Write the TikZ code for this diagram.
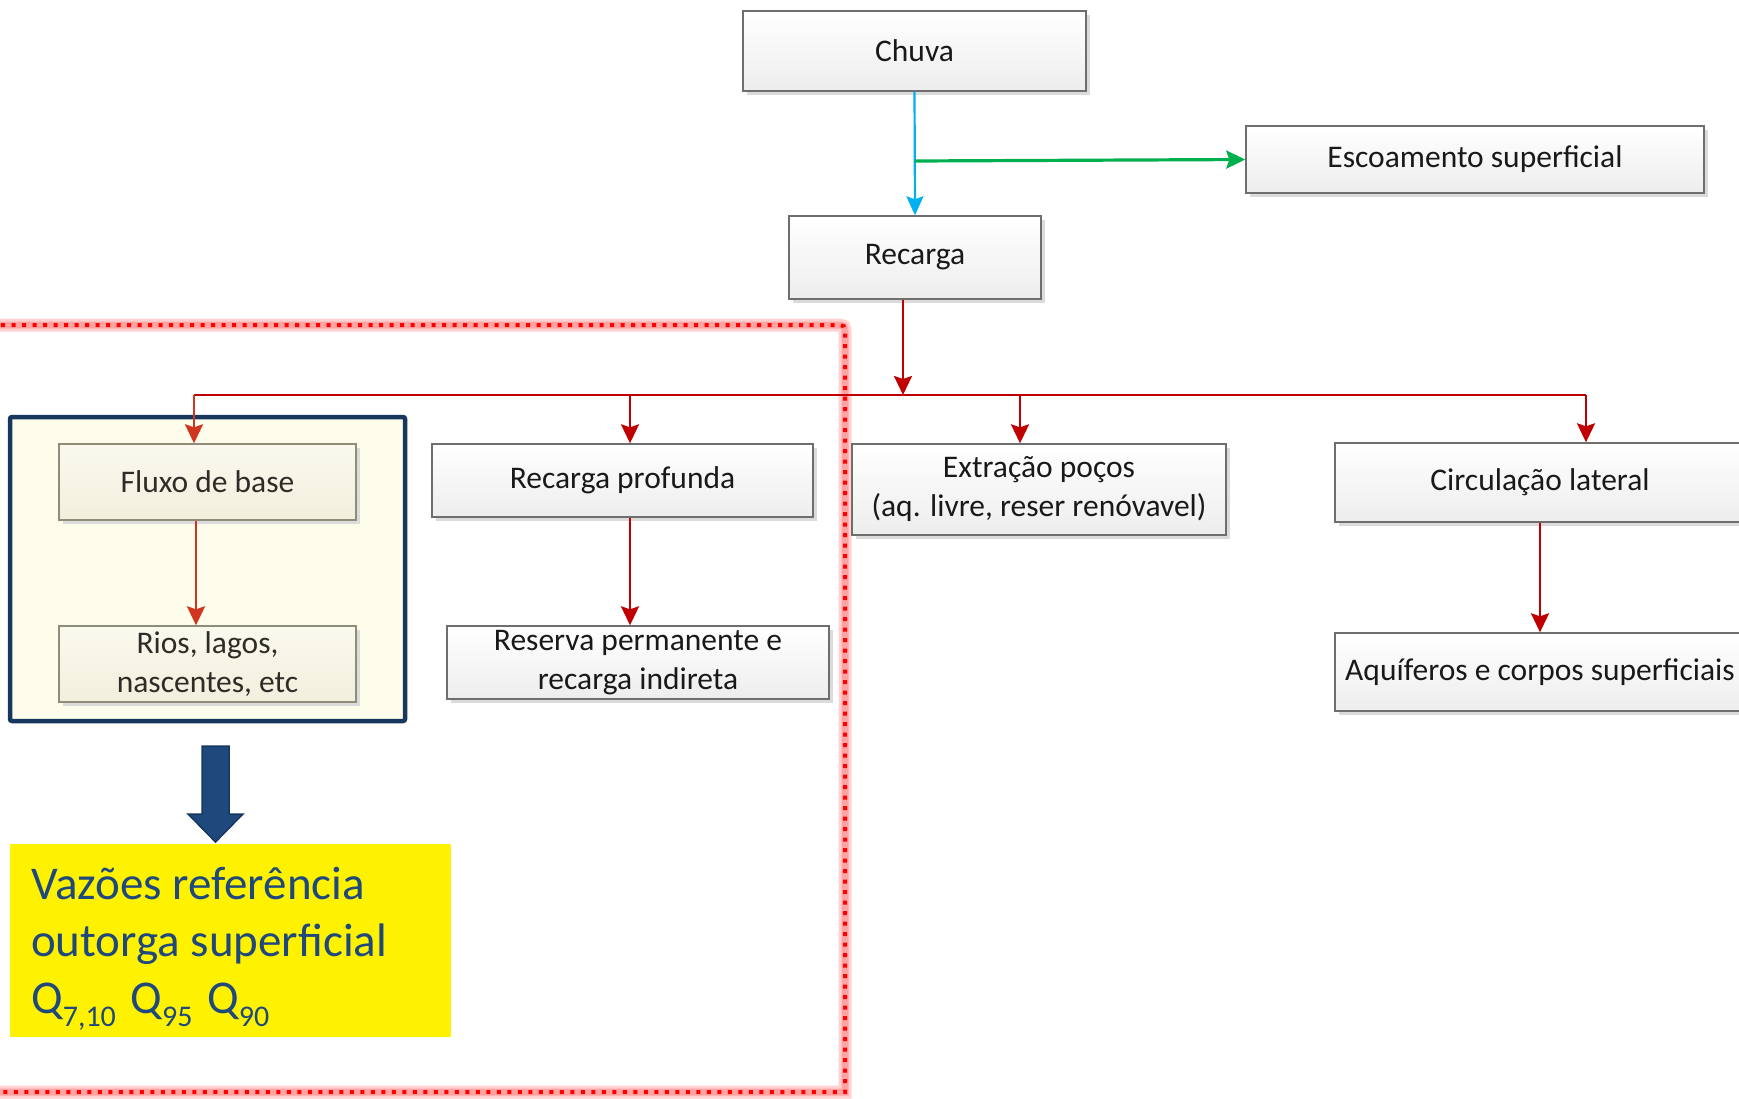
\documentclass[tikz,border=0pt]{standalone}
\usepackage{fontspec}
\setmainfont{Carlito}
\usetikzlibrary{arrows.meta,shadows}
\definecolor{redline}{HTML}{C00000}
\definecolor{redbox}{HTML}{D0361F}
\definecolor{bluel}{HTML}{00B0F0}
\definecolor{greenl}{HTML}{00B050}
\definecolor{navy}{HTML}{17375E}
\definecolor{navyfill}{HTML}{1F497D}
\definecolor{cream}{HTML}{FEFDEB}
\definecolor{textblue}{HTML}{1F497D}
\definecolor{boxborder}{HTML}{6E6E6E}
\definecolor{creamborder}{HTML}{8F8D7A}
\definecolor{creamtop}{HTML}{FAF9EE}
\definecolor{creambot}{HTML}{F1EFDC}
\newcommand\qsub[1]{\raisebox{-13pt}{\fontsize{30}{30}\selectfont #1}}
\begin{document}
\begin{tikzpicture}[x=1pt,y=-1pt,
  box/.style={draw=boxborder, line width=1.4pt, top color=white, bottom color=black!7,
    drop shadow={shadow xshift=4pt, shadow yshift=-4pt, fill=black!14, opacity=1},
    font=\fontsize{31.5}{39}\selectfont, text=black!90, align=center, inner sep=2pt},
  cbox/.style={box, draw=creamborder, top color=creamtop, bottom color=creambot, text=black!80!olive!60!black},
  rarrow/.style={draw=redline, line width=2.4pt, -{Stealth[length=19pt,width=18pt,inset=3pt]}},
  carrow/.style={draw=redbox, line width=2.4pt, -{Stealth[length=19pt,width=18pt,inset=3pt]}},
  rline/.style={draw=redline, line width=2.4pt},
  barrow/.style={draw=bluel, line width=2.2pt, -{Stealth[length=19pt,width=17pt,inset=3pt]}},
  garrow/.style={draw=greenl, line width=3.2pt, -{Stealth[length=19pt,width=18pt,inset=3pt]}},
]
\useasboundingbox (0,0) rectangle (1739,1098);
\clip (0,0) rectangle (1739,1098);

% red dotted frame with glow
\path[draw=red, line width=13pt, opacity=0.18] (-20,325) -- (835,325) .. controls (845,325) .. (845,335) -- (845,1092) -- (-20,1092);
\path[draw=red, line width=7pt, opacity=0.22] (-20,325) -- (835,325) .. controls (845,325) .. (845,335) -- (845,1092) -- (-20,1092);
\path[draw=red, line width=4pt, dash pattern=on 4pt off 6.5pt] (-20,325) -- (835,325) .. controls (845,325) .. (845,335) -- (845,1092) -- (-20,1092);

% navy group frame
\node[draw=navy, line width=4.5pt, fill=cream, rounded corners=2pt, minimum width=395pt, minimum height=304pt, inner sep=0pt] (grp) at (207.5,569) {};

% boxes
\node[box, minimum width=343pt, minimum height=80pt] (chuva) at (914.5,51) {Chuva};
\node[box, minimum width=458pt, minimum height=67pt] (esc) at (1475,159.5) {Escoamento superficial};
\node[box, minimum width=252pt, minimum height=83pt] (rec) at (915,257.5) {Recarga};
\node[cbox, minimum width=297pt, minimum height=76pt] (fluxo) at (207.5,482) {Fluxo de base};
\node[cbox, minimum width=297pt, minimum height=76pt] (rios) at (207.5,664) {Rios, lagos,\\nascentes, etc};
\node[box, minimum width=381pt, minimum height=73pt] (recprof) at (622.5,480.5) {Recarga profunda};
\node[box, minimum width=382pt, minimum height=73pt] (reserva) at (638,662.5) {Reserva permanente e\\recarga indireta};
\node[box, minimum width=374pt, minimum height=91pt] (extr) at (1039,489.5) {Extração poços\\(aq. livre, reser renóvavel)};
\node[box, minimum width=410pt, minimum height=79pt] (circ) at (1540,482.5) {Circulação lateral};
\node[box, minimum width=410pt, minimum height=78pt] (aquif) at (1540,672) {Aquíferos e corpos superficiais};

% connectors
\coordinate (gs) at (914.5,161);
\coordinate (bus) at (903,395);
\coordinate (busL) at (194,395);
\coordinate (busB) at (630,395);
\coordinate (busC) at (1020,395);
\coordinate (busR) at (1586,395);
\coordinate (inner) at (196,500);

\draw[barrow] (chuva.south) -- (rec.north);
\draw[garrow] (gs) -- (esc.west);
\draw[rline] (busL) -- (busR);
\draw[rarrow] (rec.south -| bus) -- (bus);
\draw[carrow] (busL) -- (fluxo.north -| busL);
\draw[rarrow] (busB) -- (recprof.north -| busB);
\draw[rarrow] (busC) -- (extr.north -| busC);
\draw[rarrow] (busR) -- (circ.north -| busR);
\draw[carrow] (fluxo.south -| inner) -- (rios.north -| inner);
\draw[rarrow] (recprof.south -| busB) -- (reserva.north -| busB);
\draw[rarrow] (circ.south) -- (aquif.north);

% block arrow
\filldraw[fill=navyfill, draw=navy, line width=1.5pt] (202,746) -- (229,746) -- (229,814) -- (243,814) -- (215.5,842) -- (188,814) -- (202,814) -- cycle;

% yellow box
\node[fill=yellow, minimum width=441pt, minimum height=193pt, inner sep=0pt] (yel) at (230.5,940.5) {};
\node[anchor=base west, align=left, inner sep=0pt, font=\fontsize{47}{57}\selectfont, text=textblue] (vaz) at (31,1013) {Vazões referência\\outorga superficial\\Q\qsub{7,10}\hspace{4pt} Q\qsub{95}\hspace{4pt} Q\qsub{90}};
\end{tikzpicture}
\end{document}
